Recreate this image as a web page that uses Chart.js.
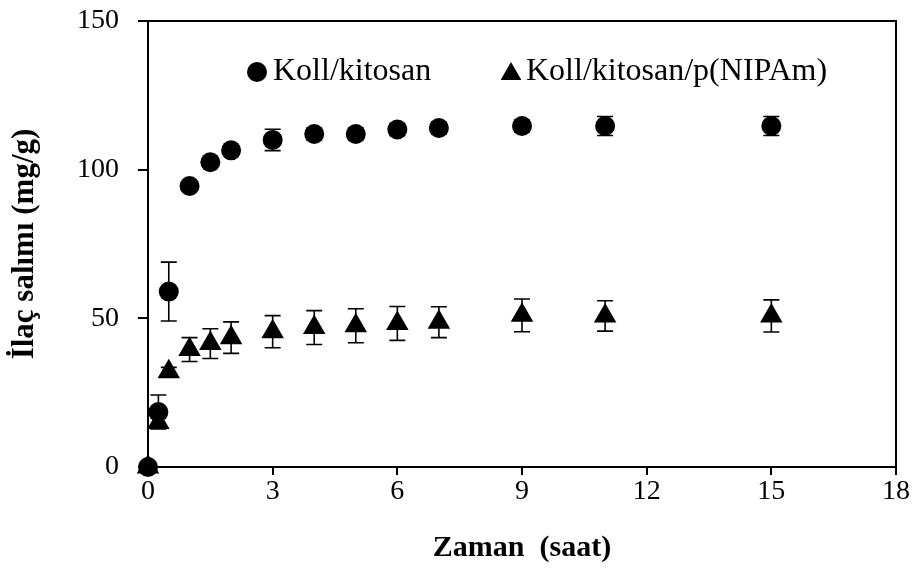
<!DOCTYPE html>
<html>
<head>
<meta charset="utf-8">
<script src="https://cdn.jsdelivr.net/npm/chart.js@4"></script>
<style>
html, body { margin: 0; padding: 0; background: #fff; }
</style>
</head>
<body>
<canvas id="myChart" width="913" height="573"></canvas>
<script>
'use strict';

// data
let timeHrs = [0, 0.25, 0.5, 1, 1.5, 2, 3, 4, 5, 6, 7, 9, 11, 15];
let kollKit = [0, 18.5, 59, 94.5, 102.5, 106.5, 110, 112, 112, 113.5, 114, 114.7, 114.7, 114.7];
let kollKitErr = [0, 5.7, 9.9, 1, 1, 1, 3.6, 2, 2, 2, 2, 2, 3.2, 3.2];
let kollNip = [0, 15, 32, 39.5, 41.5, 43.5, 45.5, 46.9, 47.5, 48.3, 48.7, 51, 50.8, 50.8];
let kollNipErr = [0, 1.5, 1.5, 4, 5, 5.3, 5.4, 5.7, 5.7, 5.7, 5.2, 5.5, 5.1, 5.4];
let seriesNames = ['Koll/kitosan', 'Koll/kitosan/p(NIPAm)'];
let xTicks = [0, 3, 6, 9, 12, 15, 18];
let yTicks = [0, 50, 100, 150];

let serif = "'Liberation Serif', 'Times New Roman', serif";

function toPoints(ys) {
    let pts = [];
    for (let i = 0; i < timeHrs.length; i++) {
        pts.push({ x: timeHrs[i], y: ys[i] });
    }
    return pts;
}

// vertical error bars with caps, under the markers
let errBars = {
    id: 'errBars',
    beforeDatasetsDraw(chart) {
        let ctx = chart.ctx;
        let xs = chart.scales.x;
        let ys = chart.scales.y;
        ctx.save();
        ctx.strokeStyle = '#000';
        ctx.lineWidth = 1.6;
        chart.data.datasets.forEach(function (ds) {
            ds.data.forEach(function (p, i) {
                let e = ds.errors[i];
                if (!e) return;
                let px = xs.getPixelForValue(p.x);
                let top = ys.getPixelForValue(p.y + e);
                let bot = ys.getPixelForValue(p.y - e);
                ctx.beginPath();
                ctx.moveTo(px, top);
                ctx.lineTo(px, bot);
                ctx.moveTo(px - 8, top);
                ctx.lineTo(px + 8, top);
                ctx.moveTo(px - 8, bot);
                ctx.lineTo(px + 8, bot);
                ctx.stroke();
            });
        });
        ctx.restore();
    }
};

// box round the plot area
let frame = {
    id: 'frame',
    beforeDatasetsDraw(chart) {
        let a = chart.chartArea;
        let ctx = chart.ctx;
        ctx.save();
        ctx.strokeStyle = '#000';
        ctx.lineWidth = 2;
        ctx.strokeRect(a.left, a.top, a.right - a.left, a.bottom - a.top);
        ctx.restore();
    }
};

// legend inside the plot, one line
let inLegend = {
    id: 'inLegend',
    afterDraw(chart) {
        let ctx = chart.ctx;
        let spots = [{ mx: 257, tx: 273 }, { mx: 511, tx: 526 }];
        let yy = 72;
        ctx.save();
        ctx.fillStyle = '#000';
        ctx.font = '32px ' + serif;
        ctx.textBaseline = 'middle';
        chart.data.datasets.forEach(function (ds, i) {
            let s = spots[i];
            Chart.helpers.drawPoint(ctx, {
                pointStyle: ds.pointStyle,
                radius: i === 0 ? 10 : 12,
                borderWidth: 0
            }, s.mx, yy + (i === 0 ? 0 : 2));
            ctx.fillStyle = '#000';
            ctx.fillText(ds.label, s.tx, yy);
        });
        ctx.restore();
    }
};

let ctx = document.getElementById('myChart').getContext('2d');
let myChart = new Chart(ctx, {
    type: 'scatter',
    data: {
        datasets: [{
            label: seriesNames[0],
            data: toPoints(kollKit),
            errors: kollKitErr,
            pointStyle: 'circle',
            pointRadius: 10,
            backgroundColor: '#000',
            borderColor: '#000',
            borderWidth: 0,
            clip: false
        },
        {
            label: seriesNames[1],
            data: toPoints(kollNip),
            errors: kollNipErr,
            pointStyle: 'triangle',
            pointRadius: 13,
            backgroundColor: '#000',
            borderColor: '#000',
            borderWidth: 0,
            clip: false
        }]
    },
    options: {
        responsive: false,
        animation: false,
        devicePixelRatio: 1,
        events: [],
        layout: { padding: { top: 21, right: 17, bottom: 0, left: 0 } },
        plugins: {
            legend: { display: false },
            tooltip: { enabled: false }
        },
        scales: {
            x: {
                type: 'linear',
                min: xTicks[0],
                max: xTicks[xTicks.length - 1],
                afterBuildTicks: function (scale) {
                    scale.ticks = xTicks.map(function (v) { return { value: v }; });
                },
                afterFit: function (scale) {
                    scale.height = 106;
                    scale.paddingLeft = 0;
                    scale.paddingRight = 0;
                },
                border: { display: true, color: '#000', width: 2 },
                grid: { drawOnChartArea: false, drawTicks: true, tickLength: 8, color: '#000', lineWidth: 2 },
                ticks: { color: '#000', padding: 0, font: { family: serif, size: 28 } },
                title: {
                    display: true,
                    text: 'Zaman  (saat)',
                    color: '#000',
                    padding: { top: 0, bottom: 7 },
                    font: { family: serif, size: 30, weight: 'bold' }
                }
            },
            y: {
                type: 'linear',
                min: yTicks[0],
                max: yTicks[yTicks.length - 1],
                afterBuildTicks: function (scale) {
                    scale.ticks = yTicks.map(function (v) { return { value: v }; });
                },
                afterFit: function (scale) {
                    scale.width = 148;
                    scale.paddingTop = 0;
                    scale.paddingBottom = 0;
                },
                border: { display: true, color: '#000', width: 2 },
                grid: { drawOnChartArea: false, drawTicks: true, tickLength: 10, color: '#000', lineWidth: 2 },
                ticks: { color: '#000', padding: 19, font: { family: serif, size: 28 } },
                title: {
                    display: true,
                    text: 'İlaç salımı (mg/g)',
                    color: '#000',
                    padding: { top: 6, bottom: 0 },
                    font: { family: serif, size: 31, weight: 'bold' }
                }
            }
        }
    },
    plugins: [frame, errBars, inLegend]
});
</script>
</body>
</html>
